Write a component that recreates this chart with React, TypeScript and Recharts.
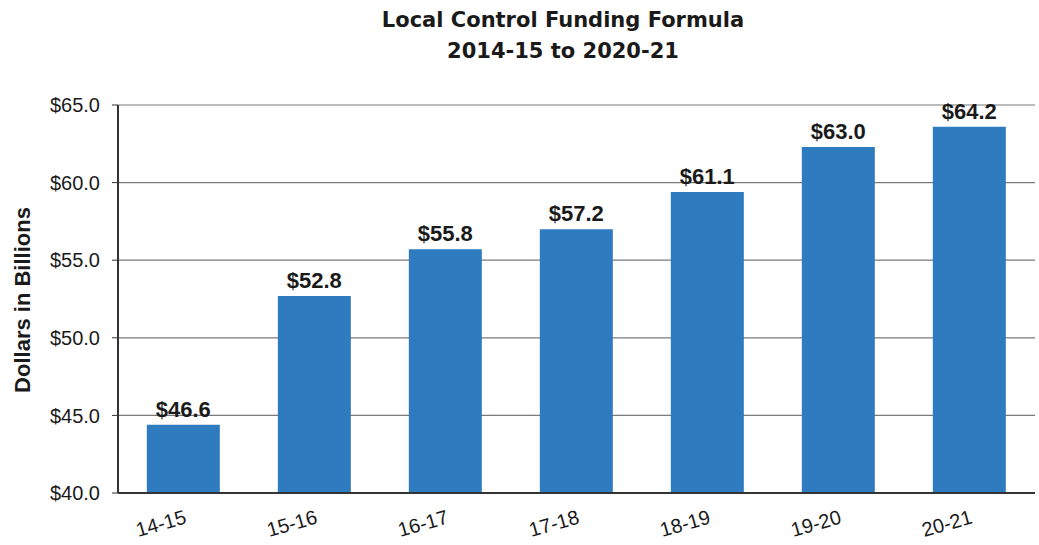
import { BarChart, Bar, XAxis, YAxis, CartesianGrid, LabelList } from 'recharts'

const years = ['14-15', '15-16', '16-17', '17-18', '18-19', '19-20', '20-21']
const barValues = [44.4, 52.7, 55.7, 57.0, 59.4, 62.3, 63.6]
const valueLabels = ['$46.6', '$52.8', '$55.8', '$57.2', '$61.1', '$63.0', '$64.2']
const yTicks = [40, 45, 50, 55, 60, 65]

const data = years.map((year, i) => ({ year, value: barValues[i], label: valueLabels[i] }))

const YearTick = (props: any) => {
  const { x, y, payload } = props
  const tx = x + 4
  const ty = y + 22
  return (
    <text
      x={tx}
      y={ty}
      transform={`rotate(-16, ${tx}, ${ty})`}
      textAnchor="end"
      fontFamily="Liberation Sans, Arial, sans-serif"
      fontSize={20}
      fill="#1a1a1a"
    >
      {payload.value}
    </text>
  )
}

export default function App() {
  return (
    <div style={{ position: 'absolute', left: 0, top: 0, width: 1039, height: 545, background: '#fff' }}>
      <div
        style={{
          position: 'absolute',
          left: 343,
          width: 440,
          top: 5,
          textAlign: 'center',
          fontFamily: 'DejaVu Sans, sans-serif',
          fontWeight: 'bold',
          fontSize: 21,
          lineHeight: '31px',
          color: '#1a1a1a',
        }}
      >
        Local Control Funding Formula
        <br />
        2014-15 to 2020-21
      </div>
      <div
        style={{
          position: 'absolute',
          left: 23,
          top: 300,
          transform: 'translate(-50%, -50%) rotate(-90deg)',
          whiteSpace: 'nowrap',
          fontFamily: 'Liberation Sans, Arial, sans-serif',
          fontWeight: 'bold',
          fontSize: 22,
          color: '#1a1a1a',
        }}
      >
        Dollars in Billions
      </div>
      <BarChart
        width={1039}
        height={545}
        data={data}
        margin={{ top: 105, right: 4, bottom: 22, left: 40 }}
        barCategoryGap="22%"
      >
        <CartesianGrid vertical={false} stroke="#7a7a7a" strokeWidth={1.2} />
        <XAxis
          dataKey="year"
          height={30}
          tick={<YearTick />}
          tickLine={false}
          axisLine={{ stroke: '#333', strokeWidth: 2 }}
          interval={0}
        />
        <YAxis
          width={78}
          domain={[40, 65]}
          ticks={yTicks}
          tickFormatter={(v: number) => `$${v.toFixed(1)}`}
          tick={{ fontFamily: 'Liberation Sans, Arial, sans-serif', fontSize: 20, fill: '#1a1a1a' }}
          tickSize={6}
          tickMargin={12}
          tickLine={{ stroke: '#333' }}
          axisLine={{ stroke: '#333', strokeWidth: 2 }}
          allowDataOverflow
        />
        <Bar dataKey="value" fill="#2e7bbf" isAnimationActive={false}>
          <LabelList
            dataKey="label"
            position="top"
            offset={8}
            style={{ fontFamily: 'Liberation Sans, Arial, sans-serif', fontWeight: 'bold', fontSize: 22, fill: '#1a1a1a' }}
          />
        </Bar>
      </BarChart>
    </div>
  )
}
